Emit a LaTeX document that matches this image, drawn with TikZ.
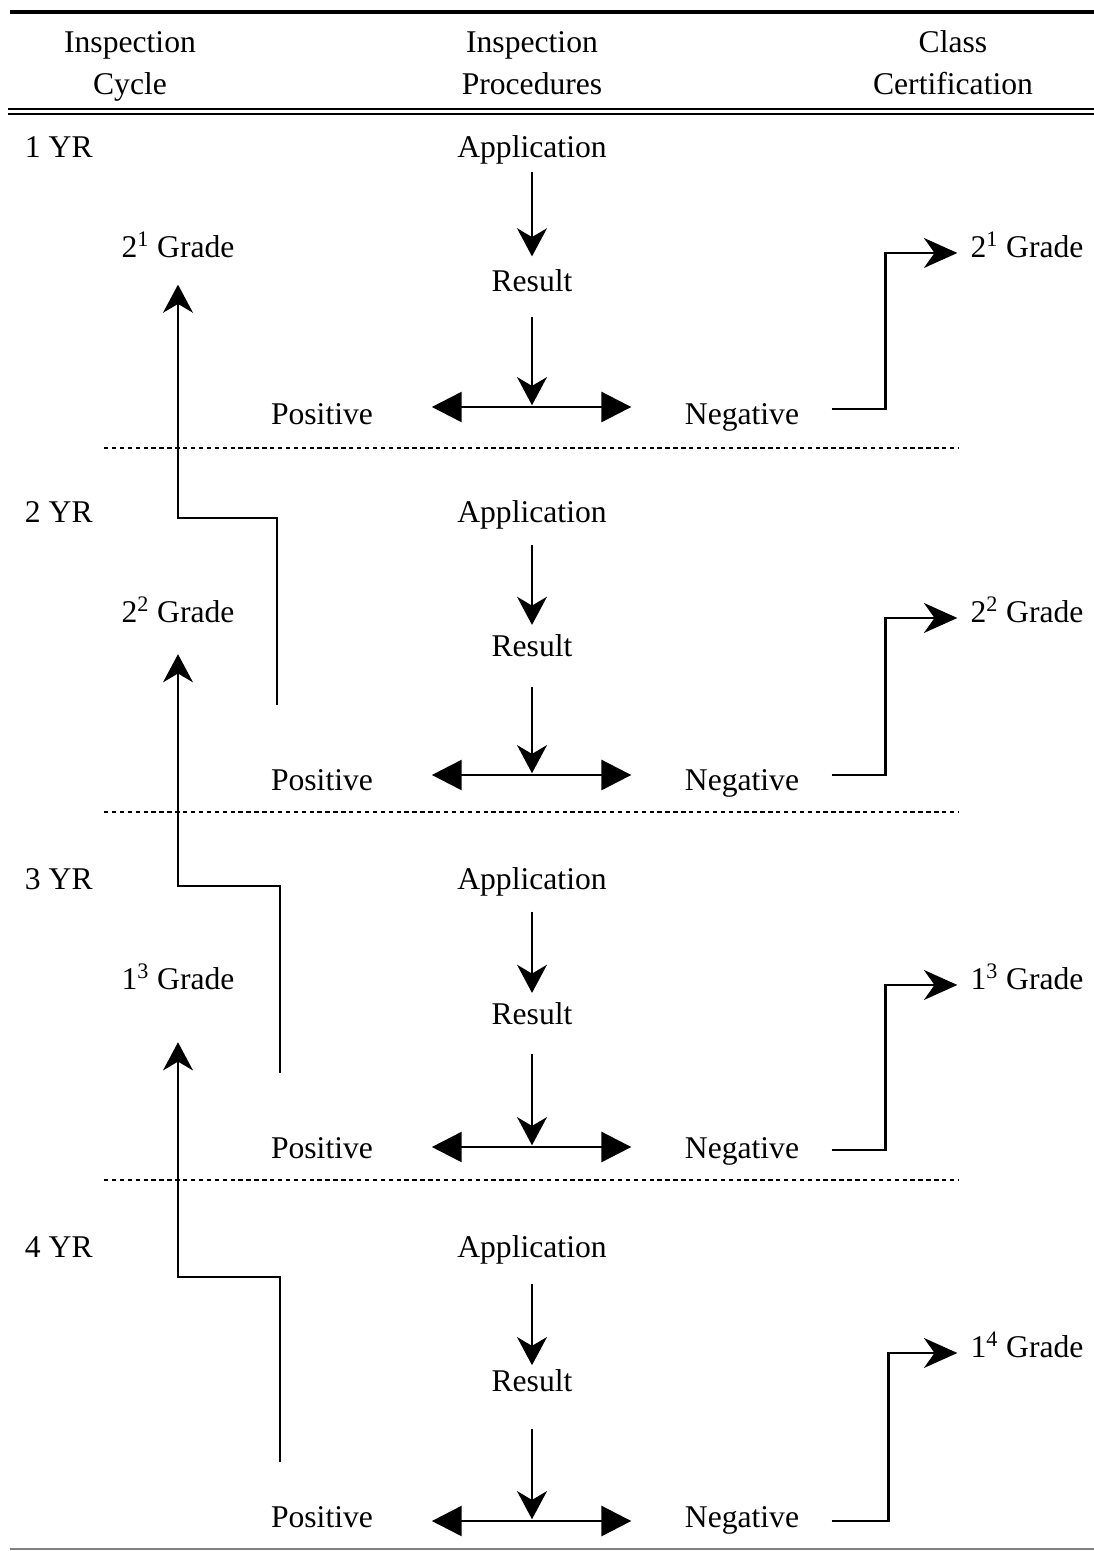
\documentclass[tikz,border=0pt]{standalone}
\usepackage{fontspec}
\setmainfont{Liberation Serif}
\usetikzlibrary{arrows.meta}
\begin{document}
\begin{tikzpicture}[x=0.02cm, y=-0.02cm,
    lbl/.style={font=\fontsize{18}{22}\selectfont, text height=13.5pt, text depth=1.5pt, inner sep=0pt, outer sep=6.5pt},
    hd/.style={font=\fontsize{18}{24}\selectfont, align=center},
    flow/.style={line width=1.6pt, -{Stealth[length=16pt,width=17pt,inset=5pt]}},
    split/.style={line width=1.6pt, {Triangle[length=17pt,width=17pt]}-{Triangle[length=17pt,width=17pt]}, shorten <=27pt, shorten >=24pt},
    cert/.style={line width=1.6pt, -{Stealth[length=19pt,width=17pt,inset=6pt]}, shorten >=1pt},
    sep/.style={line width=1.5pt, dash pattern=on 2.5pt off 2pt}]
    \useasboundingbox (0,0) rectangle (1094,1551);
    % header
    \draw[line width=2.3pt] (10,12) -- (1094,12);
    \node[hd] (hd1) at (130,65) {Inspection\strut\\Cycle\strut};
    \node[hd] (hd2) at (532,65) {Inspection\strut\\Procedures\strut};
    \node[hd] (hd3) at (953,65) {Class\strut\\Certification\strut};
    \draw[line width=0.6pt] (8,109) -- (1094,109);
    \draw[line width=0.6pt] (8,114) -- (1094,114);
    % 1 YR
    \node[lbl, anchor=west, outer sep=0pt] (yr1) at (25,147) {1 YR};
    \node[lbl] (app1) at (532,147) {Application};
    \node[lbl] (res1) at (532,281) {Result};
    \node[lbl] (pos1) at (322,414) {Positive};
    \node[lbl] (neg1) at (742,414) {Negative};
    \node[lbl] (gl1) at (178,247) {2\textsuperscript{1} Grade};
    \node[lbl] (gr1) at (1027,247) {2\textsuperscript{1} Grade};
    \coordinate (mid1) at (532,407);
    \draw[flow] (app1) -- (res1);
    \draw[flow, shorten <=6.5pt, shorten >=1pt] (res1) -- (mid1);
    \draw[split] (pos1.east |- mid1) -- (neg1.west |- mid1);
    \draw[cert] ([xshift=12pt, yshift=2.8pt]neg1.east) -- ++(54,0) |- ([yshift=-3.4pt]gr1.west);
    \draw[sep] (104,448) -- (958,448);
    % 2 YR
    \node[lbl, anchor=west, outer sep=0pt] (yr2) at (25,512) {2 YR};
    \node[lbl] (app2) at (532,512) {Application};
    \node[lbl] (res2) at (532,646) {Result};
    \node[lbl] (pos2) at (322,780) {Positive};
    \node[lbl] (neg2) at (742,780) {Negative};
    \node[lbl] (gl2) at (178,612) {2\textsuperscript{2} Grade};
    \node[lbl] (gr2) at (1027,612) {2\textsuperscript{2} Grade};
    \coordinate (mid2) at (532,775);
    \coordinate (s2) at (277,705);
    \draw[flow, shorten <=4.5pt, shorten >=-2pt] (app2) -- (res2);
    \draw[flow, shorten <=9.5pt, shorten >=1pt] (res2) -- (mid2);
    \draw[split] (pos2.east |- mid2) -- (neg2.west |- mid2);
    \draw[cert] ([xshift=12pt, yshift=2.8pt]neg2.east) -- ++(54,0) |- ([yshift=-3.4pt]gr2.west);
    \draw[flow, shorten >=7.4pt] (s2) -- ++(0,-187) -| (gl1);
    \draw[sep] (104,812) -- (958,812);
    % 3 YR
    \node[lbl, anchor=west, outer sep=0pt] (yr3) at (25,879) {3 YR};
    \node[lbl] (app3) at (532,879) {Application};
    \node[lbl] (res3) at (532,1014) {Result};
    \node[lbl] (pos3) at (322,1148) {Positive};
    \node[lbl] (neg3) at (742,1148) {Negative};
    \node[lbl] (gl3) at (178,979) {1\textsuperscript{3} Grade};
    \node[lbl] (gr3) at (1027,979) {1\textsuperscript{3} Grade};
    \coordinate (mid3) at (532,1147);
    \coordinate (s3) at (280,1073);
    \draw[flow, shorten <=4.5pt, shorten >=-2pt] (app3) -- (res3);
    \draw[flow, shorten <=9pt, shorten >=1pt] (res3) -- (mid3);
    \draw[split] (pos3.east |- mid3) -- (neg3.west |- mid3);
    \draw[cert] ([xshift=12pt, yshift=-1.1pt]neg3.east) -- ++(54,0) |- ([yshift=-3.4pt]gr3.west);
    \draw[flow, shorten >=10pt] (s3) -- ++(0,-187) -| (gl2);
    \draw[sep] (104,1180) -- (958,1180);
    % 4 YR
    \node[lbl, anchor=west, outer sep=0pt] (yr4) at (25,1247) {4 YR};
    \node[lbl] (app4) at (532,1247) {Application};
    \node[lbl] (res4) at (532,1381) {Result};
    \node[lbl] (pos4) at (322,1517) {Positive};
    \node[lbl] (neg4) at (742,1517) {Negative};
    \node[lbl] (gr4) at (1027,1347) {1\textsuperscript{4} Grade};
    \coordinate (mid4) at (532,1521);
    \coordinate (s4) at (280,1462);
    \draw[flow, shorten <=7pt, shorten >=-5pt] (app4) -- (res4);
    \draw[flow, shorten <=13.5pt, shorten >=1pt] (res4) -- (mid4);
    \draw[split] (pos4.east |- mid4) -- (neg4.west |- mid4);
    \draw[cert] ([xshift=12pt, yshift=-2.3pt]neg4.east) -- ++(57,0) |- ([yshift=-3.4pt]gr4.west);
    \draw[flow, shorten >=22pt] (s4) -- ++(0,-185) -| (gl3);
    % bottom rule
    \draw[line width=1pt, gray] (10,1549) -- (1094,1549);
  \end{tikzpicture}
\end{document}
